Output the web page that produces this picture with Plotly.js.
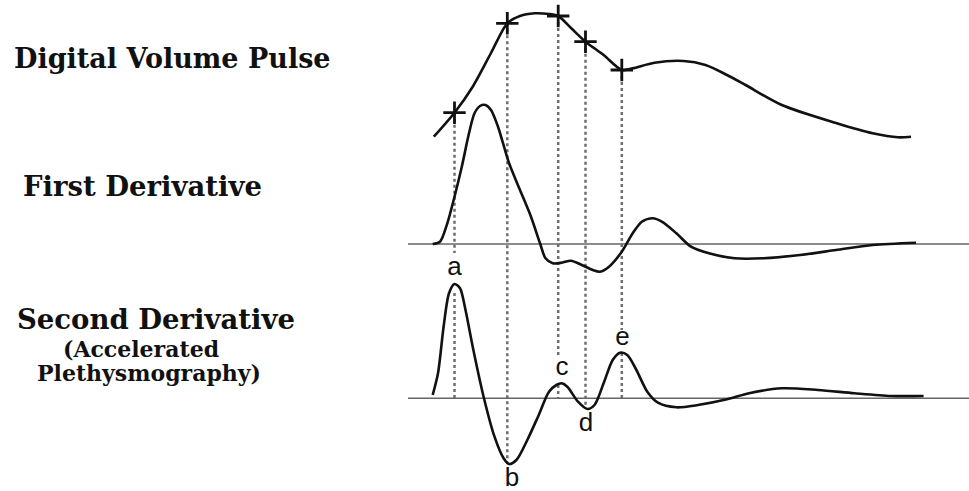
<!DOCTYPE html>
<html><head><meta charset="utf-8">
<script src="https://cdn.plot.ly/plotly-3.0.1.min.js"></script>
<style>html,body{margin:0;padding:0;background:#fff}#chart{width:969px;height:491px}</style>
</head><body><div id="chart"></div>
<script>
// Digital Volume Pulse
const dvpX = [433.8,454.5,472.7,491,507.3,520,534.5,549,558.2,571,585.5,603.6,621.8,632.7,654.5,683.6,705.5,727,745.5,781.8,836,872.7,898,911];
const dvpY = [136.7,112.7,86.7,53,23.3,16,13.3,14,16,28,41.7,55,70,68.3,62.7,61,65,75,85,105,123,133.3,137.3,136.7];
// feature points a..e on the pulse
const ptX = [454.5,507.3,558.2,585.5,621.8];
const ptY = [112.7,23.3,16,41.7,70];
// First derivative
const fdX = [432.7,440,447.3,454.5,461.8,469,474.5,480,485.5,491,498,509,520,531,540,545.5,552.7,561.8,571,581.8,592.7,600,609,621.8,632.7,641.8,652.7,661.8,676.4,691,709,734.5,763.6,800,836,872.7,916];
const fdY = [244,241.7,223.3,196.7,166.7,133.3,113.3,106,105,110,126.7,163,190,216.7,243.3,258.3,263.3,262.7,260.7,265,270,271.7,266.7,251.7,233.3,221.7,218.3,221.7,233.3,246.7,253.3,258.3,258.3,255,250,245,242.7];
const fdBase = 244;
// Second derivative
const sdX = [432.7,438,443.6,449,454.5,460,465.5,472.7,483.6,494.5,503.6,509,516.4,527.3,538,549,556.4,561.8,567.3,578,587.3,594.5,603.6,612.7,620,627.3,636.4,647.3,658,676.4,698,727,749,781.8,818,854.5,891,923.6];
const sdY = [395,373.3,326.7,293.3,284,288.3,310,346.7,396.7,436.7,458.3,464,460,440,416.7,391.7,385,383.3,386.7,401.7,409,405,383.3,360,352.7,355,370,391.7,402.7,407.3,405,399.3,393.3,388.3,390,393.3,396,396];
const sdBase = 398.3;
// wave labels
const waveLabels = ['a','b','c','d','e'];
const labX = [454.5,512,562,586,622.5];
const labY = [268,479,368,424,338];
// dotted guide segments (top, bottom) per point
const guideTop = [[112.7,253],[23.3,464],[16,357],[41.7,409],[70,330]];
const guideLow = [[293,398.3],null,[385,398.3],null,[353,398.3]];
const rowTitles = ['Digital Volume Pulse','First Derivative','Second Derivative','(Accelerated','Plethysmography)'];

const traces = [];
const gx = [], gy = [];
ptX.forEach((x,i)=>{
  gx.push(x,x,null); gy.push(guideTop[i][0],guideTop[i][1],null);
  if (guideLow[i]) { gx.push(x,x,null); gy.push(guideLow[i][0],guideLow[i][1],null); }
});
traces.push({x:gx,y:gy,mode:'lines',line:{color:'#6e6e6e',width:2.5,dash:'dot'},hoverinfo:'skip'});
traces.push({x:[408,969],y:[fdBase,fdBase],mode:'lines',line:{color:'#666',width:1.6},hoverinfo:'skip'});
traces.push({x:[408,969],y:[sdBase,sdBase],mode:'lines',line:{color:'#666',width:1.6},hoverinfo:'skip'});
traces.push({x:dvpX,y:dvpY,mode:'lines',line:{color:'#111',width:2.6,shape:'spline',smoothing:0.8}});
traces.push({x:fdX,y:fdY,mode:'lines',line:{color:'#111',width:2.6,shape:'spline',smoothing:0.8}});
traces.push({x:sdX,y:sdY,mode:'lines',line:{color:'#111',width:2.6,shape:'spline',smoothing:0.8}});
traces.push({x:ptX,y:ptY,mode:'markers',marker:{symbol:'cross-thin',size:16,line:{color:'#111',width:2.8}}});
traces.push({x:labX,y:labY,mode:'text',text:waveLabels,textfont:{family:'Liberation Sans, Arial, sans-serif',size:26,color:'#111'},textposition:'middle center'});

const titleX = [12,21,15,61,35];
const titleY = [58,186,319,349,373];
const titleSize = [27,27.5,27.5,22,22];
const annotations = rowTitles.map((t,i)=>({x:titleX[i],y:titleY[i],xref:'x',yref:'y',text:'<b>'+t+'</b>',showarrow:false,xanchor:'left',yanchor:'middle',font:{family:'DejaVu Serif, serif',size:titleSize[i],color:'#111'}}));

Plotly.newPlot('chart',traces,{
  width:969,height:491,margin:{l:0,r:0,t:0,b:0},showlegend:false,
  paper_bgcolor:'#fff',plot_bgcolor:'#fff',
  xaxis:{range:[0,969],visible:false,fixedrange:true},
  yaxis:{range:[491,0],visible:false,fixedrange:true},
  annotations:annotations
},{staticPlot:true});
</script></body></html>
